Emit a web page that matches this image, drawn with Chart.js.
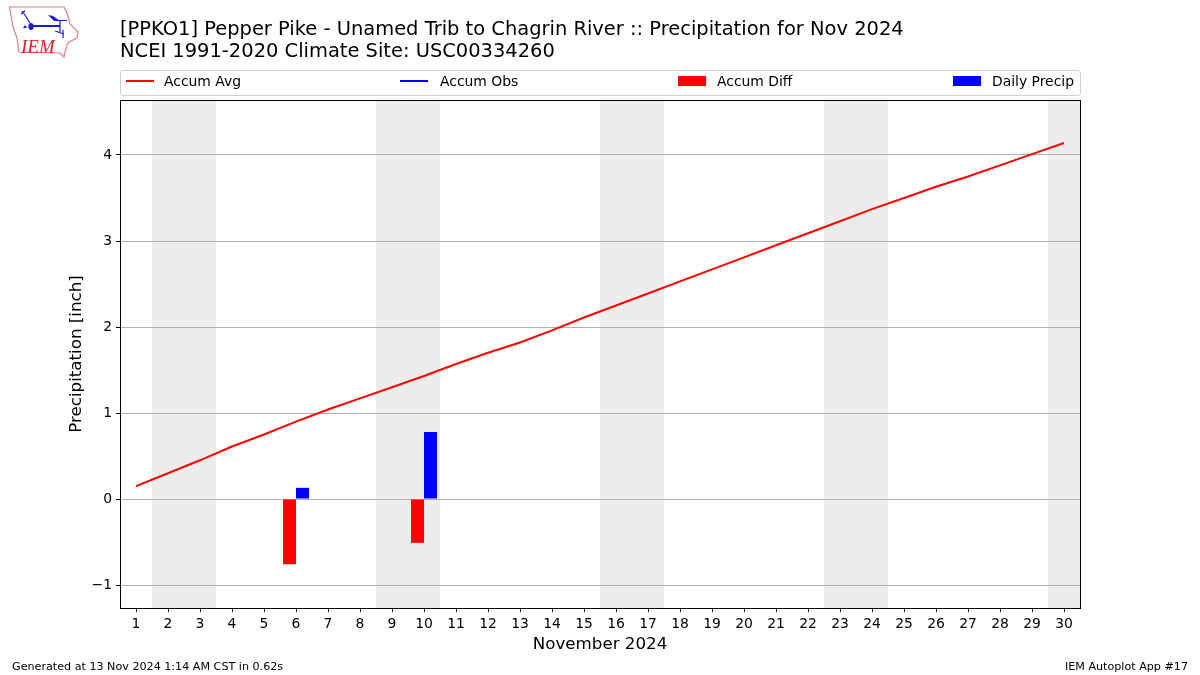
<!DOCTYPE html>
<html>
<head>
<meta charset="utf-8">
<title>Precipitation for Nov 2024</title>
<script src="https://cdn.jsdelivr.net/npm/chart.js@4"></script>
<style>
    html, body { margin: 0; padding: 0; background: #fff; }
    body { width: 1200px; height: 675px; position: relative; overflow: hidden; font-family: "DejaVu Sans", sans-serif; color: #000; }
    canvas { position: absolute; left: 0; top: 0; }
    #logo { position: absolute; left: 0; top: 0; }
    #legend { position: absolute; left: 120px; top: 70px; width: 959px; height: 24px; border: 1px solid #d0d0d0; border-radius: 3px; background: #fff; }
    .item { position: absolute; top: 0; height: 24px; line-height: 21px; font-size: 13.9px; white-space: nowrap; }
    .swatch { position: absolute; left: 0; width: 28px; }
    .item span { position: absolute; top: 0; }
    .foot { position: absolute; top: 660px; font-size: 11.15px; line-height: 13px; white-space: nowrap; }
</style>
</head>
<body>
<canvas id="precipChart" width="1200" height="675"></canvas>
<svg id="logo" width="90" height="62" viewBox="0 0 90 62">
    <path d="M9.5 7 L64 7 L67 13 L70 24 L78 32 L77 38 L69 42 L67 45 L65 52 L64 57 L60 53 L19 52 L17 38 L13 27 Z" fill="#fff" stroke="#e08080" stroke-width="1.2"/>
    <path d="M31 26 L60 26" fill="none" stroke="#1a1ad0" stroke-width="2"/>
    <path d="M48 15 L53 16 L60 21 L54 21 Z" fill="#1a1ad0"/>
    <path d="M55 20.5 L67 20.5 M60 21 L60 32 M22 11 L25 15 L30 23 M21 14 L25 11 M55 31 L64 34 M63 30 L63 38" fill="none" stroke="#1a1ad0" stroke-width="1.2"/>
    <ellipse cx="31" cy="26.5" rx="2.6" ry="3.6" fill="#1a1ad0"/>
    <path d="M23 28 L25 25 L27 28 Z" fill="#1a1ad0"/>
    <text x="21" y="52.5" font-family="Liberation Serif" font-style="italic" font-size="19" fill="#d8232a">IEM</text>
</svg>
<div id="legend"></div>
<div class="foot" style="left:12px">Generated at 13 Nov 2024 1:14 AM CST in 0.62s</div>
<div class="foot" style="right:12px">IEM Autoplot App #17</div>
<script>
const days = ['1','2','3','4','5','6','7','8','9','10','11','12','13','14','15','16','17','18','19','20','21','22','23','24','25','26','27','28','29','30'];
const accumAvg = [0.15,0.30,0.45,0.61,0.75,0.90,1.04,1.17,1.30,1.43,1.57,1.70,1.82,1.96,2.11,2.25,2.39,2.53,2.67,2.81,2.95,3.09,3.23,3.37,3.50,3.63,3.75,3.88,4.01,4.14];
const accumObs = [];
const accumDiff = [null,null,null,null,null,-0.76,null,null,null,-0.51,null,null,null,null,null,null,null,null,null,null,null,null,null,null,null,null,null,null,null,null];
const dailyPrecip = [null,null,null,null,null,0.13,null,null,null,0.78,null,null,null,null,null,null,null,null,null,null,null,null,null,null,null,null,null,null,null,null];
const yTicks = [-1, 0, 1, 2, 3, 4];
const weekends = [[1.5, 3.5], [8.5, 10.5], [15.5, 17.5], [22.5, 24.5], [29.5, 30.5]];
const titleLines = ['[PPKO1] Pepper Pike - Unamed Trib to Chagrin River :: Precipitation for Nov 2024', 'NCEI 1991-2020 Climate Site: USC00334260'];

const frame = {
    id: 'frame',
    beforeDraw(chart) {
        const { ctx, chartArea, scales } = chart;
        ctx.save();
        ctx.fillStyle = '#ededed';
        weekends.forEach(w => {
            // scale index is day - 1
            const a = scales.x.getPixelForValue(w[0] - 1);
            const b = scales.x.getPixelForValue(w[1] - 1);
            ctx.fillRect(a, chartArea.top, b - a, chartArea.bottom - chartArea.top);
        });
        ctx.restore();
    },
    afterDraw(chart) {
        const { ctx, chartArea } = chart;
        ctx.save();
        ctx.strokeStyle = '#000';
        ctx.lineWidth = 1;
        ctx.strokeRect(chartArea.left + 0.5, chartArea.top + 0.5, chartArea.right - chartArea.left, chartArea.bottom - chartArea.top);
        ctx.restore();
    }
};

const ctx = document.getElementById('precipChart').getContext('2d');
const chart = new Chart(ctx, {
    type: 'bar',
    data: {
        labels: days,
        datasets: [
            { type: 'line', label: 'Accum Avg', data: accumAvg, borderColor: '#ff0000', backgroundColor: '#ff0000', borderWidth: 2, pointRadius: 0, fill: false },
            { type: 'line', label: 'Accum Obs', data: accumObs, borderColor: '#0000ff', backgroundColor: '#0000ff', borderWidth: 2, pointRadius: 0, fill: false },
            { label: 'Accum Diff', data: accumDiff, backgroundColor: '#ff0000', barPercentage: 1, categoryPercentage: 0.8125 },
            { label: 'Daily Precip', data: dailyPrecip, backgroundColor: '#0000ff', barPercentage: 1, categoryPercentage: 0.8125 }
        ]
    },
    options: {
        responsive: false,
        animation: false,
        events: [],
        layout: { padding: { left: 67, right: 120, top: 0, bottom: 20 } },
        plugins: {
            legend: { display: false },
            tooltip: { enabled: false },
            title: {
                display: true,
                text: titleLines,
                align: 'start',
                fullSize: false,
                color: '#000',
                font: { family: 'DejaVu Sans', size: 19.47, weight: 'normal', lineHeight: 1.13 },
                padding: { top: 19, bottom: 37 }
            }
        },
        scales: {
            x: {
                offset: true,
                grid: { display: true, drawOnChartArea: false, offset: false, color: '#000', tickLength: 4 },
                border: { display: false },
                ticks: { color: '#000', font: { family: 'DejaVu Sans', size: 13.9 }, maxRotation: 0, autoSkip: false, padding: 4 },
                title: { display: true, text: 'November 2024', color: '#000', font: { family: 'DejaVu Sans', size: 16.7 }, padding: { top: 1, bottom: 0 } },
                afterFit(scale) { scale.height = 47; }
            },
            y: {
                min: -1.2674,
                max: 4.6395,
                afterBuildTicks(scale) { scale.ticks = yTicks.map(v => ({ value: v })); },
                grid: { color: '#b0b0b0', tickColor: '#000', tickLength: 4, lineWidth: 1 },
                border: { display: false },
                ticks: {
                    color: '#000',
                    font: { family: 'DejaVu Sans', size: 13.9 },
                    padding: 4,
                    callback: v => String(v).replace('-', '\u2212')
                },
                title: { display: true, text: 'Precipitation [inch]', color: '#000', font: { family: 'DejaVu Sans', size: 16.7 }, padding: { top: 0, bottom: 4 } },
                afterFit(scale) { scale.width = 53; }
            }
        }
    },
    plugins: [frame]
});

// legend strip, same entries as the datasets
const legendX = [5, 279, 557, 832];
const legendTextX = [38, 40, 39, 39];
const legendBox = document.getElementById('legend');
chart.data.datasets.forEach((d, i) => {
    const item = document.createElement('div');
    item.className = 'item';
    item.style.left = legendX[i] + 'px';
    const isLine = d.type === 'line';
    item.innerHTML = `<div class="swatch" style="top:${isLine ? 9 : 5}px;height:${isLine ? 2 : 10}px;background:${d.backgroundColor}"></div><span style="left:${legendTextX[i]}px">${d.label}</span>`;
    legendBox.appendChild(item);
});
</script>
</body>
</html>
